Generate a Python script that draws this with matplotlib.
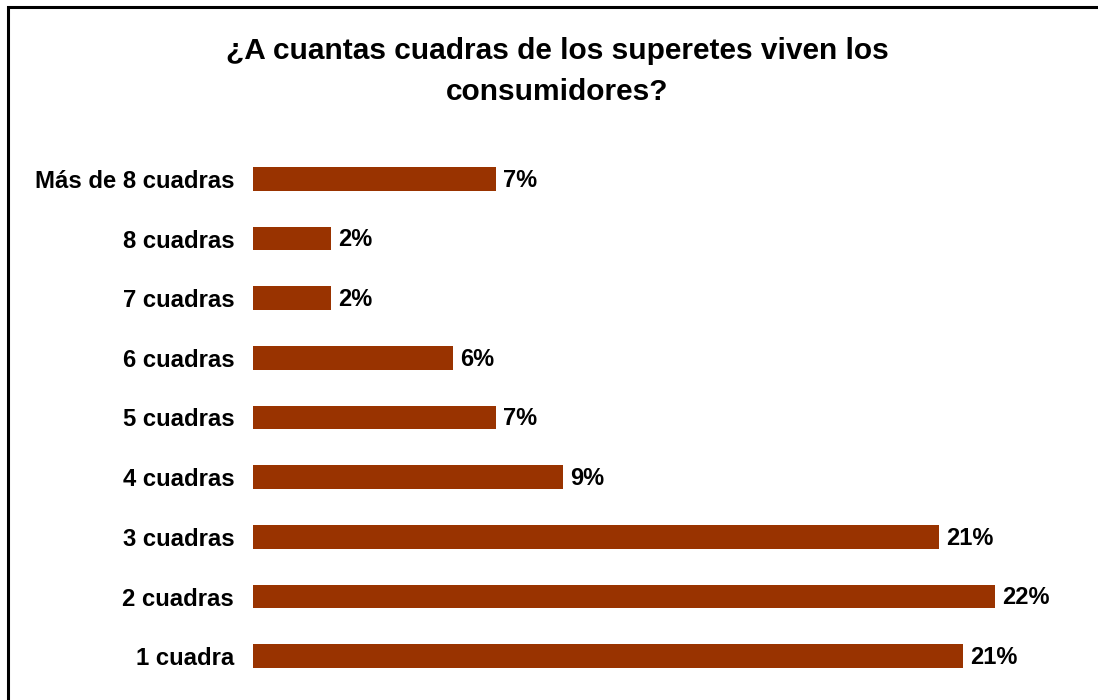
import matplotlib
matplotlib.use("Agg")
import matplotlib.pyplot as plt
from matplotlib.patches import Rectangle

categories = ["1 cuadra", "2 cuadras", "3 cuadras", "4 cuadras", "5 cuadras",
              "6 cuadras", "7 cuadras", "8 cuadras", "Más de 8 cuadras"]
values = [21.39, 22.35, 20.66, 9.34, 7.32, 6.02, 2.35, 2.35, 7.32]
labels = ["21%", "22%", "21%", "9%", "7%", "6%", "2%", "2%", "7%"]
title_lines = ["¿A cuantas cuadras de los superetes viven los", "consumidores?"]

plt.rcParams['font.family'] = ['Liberation Sans', 'DejaVu Sans']

W, H = 1098, 700
fig = plt.figure(figsize=(W / 100, H / 100), dpi=100)
fig.patch.set_facecolor("white")

left, right = 253, 1083
top, bottom = 149, 686
ax = fig.add_axes([left / W, 1 - bottom / H, (right - left) / W, (bottom - top) / H])

y = list(range(len(categories)))
ax.barh(y, values, height=0.4, color="#993300", edgecolor="none")
ax.set_xlim(0, 25)
ax.set_ylim(-0.5, len(categories) - 0.5)
ax.set_yticks(y)
ax.set_yticklabels(categories, fontsize=17.2, fontweight="bold")
ax.tick_params(axis="y", length=0, pad=13.5)
ax.set_xticks([])
for s in ax.spines.values():
    s.set_visible(False)

for yi, v, lab in zip(y, values, labels):
    ax.annotate(lab, xy=(v, yi), xytext=(5, -1), textcoords="offset points",
                ha="left", va="center", fontsize=17, fontweight="bold")

for line, ypx in zip(title_lines, [51, 92]):
    fig.text(557 / W, 1 - ypx / H, line, ha="center", va="center",
             fontsize=21.5, fontweight="bold")

border = Rectangle((7.7 / W, -0.1), 1.2, 1.1 - 7 / H, transform=fig.transFigure,
                   fill=False, edgecolor="black", linewidth=2.2)
fig.patches.append(border)

fig.savefig("out.png", dpi=100)
